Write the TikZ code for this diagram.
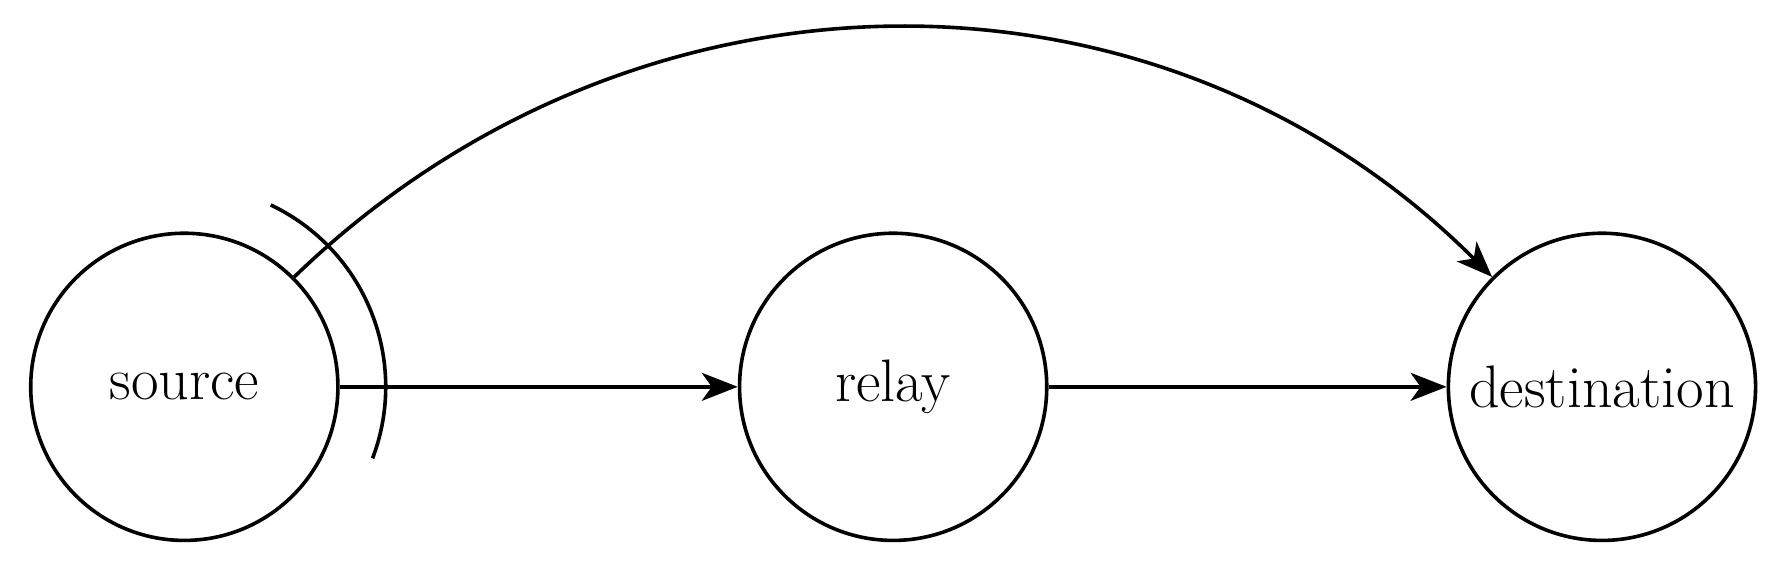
\documentclass[tikz,border=0pt]{standalone}
\usetikzlibrary{arrows.meta}
\begin{document}
\begin{tikzpicture}[
  every node/.style={font=\fontsize{15}{18}\selectfont},
  nd/.style={circle,draw,line width=0.9pt,minimum size=2.7cm,inner sep=0pt},
  ed/.style={line width=0.9pt,-{Stealth[length=9pt,width=7pt,inset=2.5pt]}}]
\useasboundingbox (0,0) rectangle (15.68,5.08);
\node[nd] (s) at (1.62,1.68) {source};
\node[nd] (r) at (7.85,1.68) {relay};
\node[nd] (d) at (14.08,1.68) {destination};
\draw[ed] (s) -- (r);
\draw[ed] (r) -- (d);
\draw[ed] (s.45) .. controls (5.6,5.56) and (10.2,5.56) .. (d.135);
\draw[line width=0.9pt] (s.center) ++(64.6:1.77) arc[start angle=64.6,end angle=-20.8,radius=1.77];
\end{tikzpicture}
\end{document}
